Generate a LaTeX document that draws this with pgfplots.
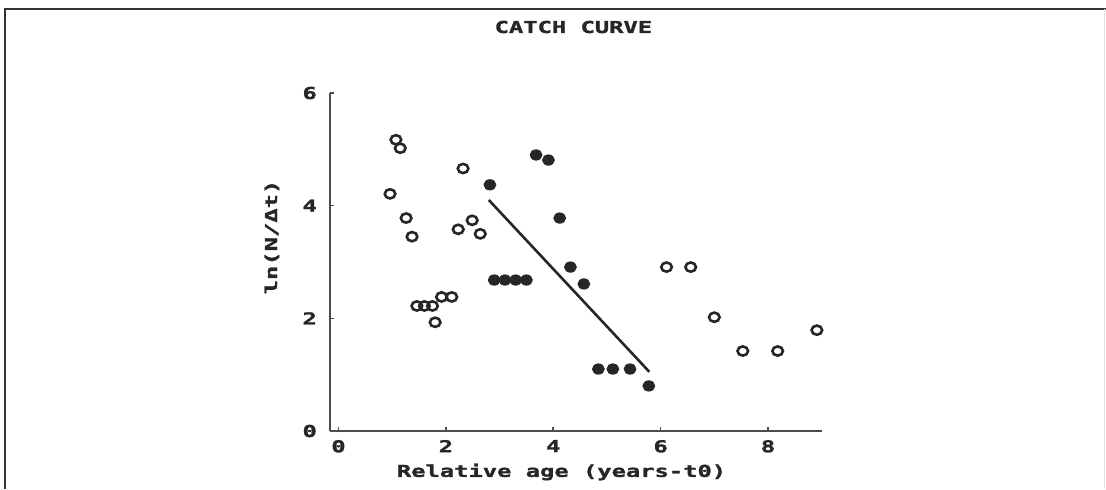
\documentclass[border=0pt]{standalone}
\usepackage{fontspec}
\usepackage{pgfplots}
\pgfplotsset{compat=1.18}
\newfontfamily\pixfont{DejaVu Sans Mono}[FakeStretch=1.45, FakeBold=1.6]
\newcommand{\pf}{\pixfont\bfseries\fontsize{8.2}{10}\selectfont}
\begin{document}
\begin{tikzpicture}[x=1pt,y=1pt]
\path[use as bounding box] (0,0) rectangle (553,244.5);
\draw[line width=1.2pt, color=black!80] (2.5,0) -- (2.5,240) -- (553,240);
\draw[line width=0.5pt, black!12] (552,0) -- (552,240);
\node[font=\pf, text=black!85] at (286.7,231) {CATCH CURVE};
\begin{axis}[
  at={(164.95pt,29pt)}, anchor=south west,
  scale only axis, width=245.9pt, height=169pt,
  xmin=-0.16, xmax=9.0, ymin=0, ymax=6,
  axis lines=left, axis line style={-, line width=1pt, black!70},
  xtick={0,2,4,6,8}, ytick={0,2,4,6},
  tick style={black!70, line width=0.8pt}, major tick length=2pt, tick align=inside,
  /pgf/number format/assume math mode=true,
  tick label style={font=\pf, text=black!85},
  xticklabel style={yshift=-1pt},
  yticklabel style={xshift=-3pt},
  xlabel={Relative age (years-t0)},
  ylabel={ln(N/Δt)},
  label style={font=\pf, text=black!85},
  xlabel style={at={(axis description cs:0.471,-0.121)}, anchor=center},
  ylabel style={at={(axis description cs:-0.118,0.574)}, anchor=center, rotate=0},
  clip=false,
]
\addplot[only marks, mark=o, mark size=2.3pt, mark options={line width=1.3pt, draw=black!85, xscale=1.15}] coordinates {
(1.07,5.17) (1.15,5.02) (0.96,4.21) (1.26,3.78) (1.37,3.45)
(1.46,2.22) (1.60,2.22) (1.75,2.22) (1.80,1.93) (1.92,2.38) (2.11,2.38)
(2.23,3.58) (2.32,4.66) (2.49,3.74) (2.64,3.50)
(6.11,2.91) (6.56,2.91) (7.00,2.02) (7.53,1.42) (8.18,1.42) (8.91,1.79)
};
\addplot[only marks, mark=*, mark size=2.6pt, mark options={draw=black!85, fill=black!85, xscale=1.15}] coordinates {
(2.82,4.37) (2.90,2.68) (3.10,2.68) (3.30,2.68) (3.50,2.68)
(3.68,4.90) (3.91,4.81) (4.12,3.78) (4.32,2.91) (4.57,2.61)
(4.84,1.10) (5.11,1.10) (5.43,1.10) (5.78,0.80)
};
\addplot[line width=1.3pt, black!85] coordinates {(2.80,4.10) (5.79,1.05)};
\end{axis}
\end{tikzpicture}
\end{document}
